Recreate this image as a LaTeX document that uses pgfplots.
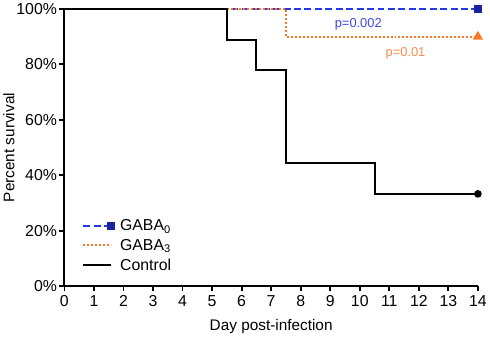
\documentclass[border=0pt]{standalone}
\usepackage{pgfplots}
\pgfplotsset{compat=1.18}
\usepackage{fontspec}
\setmainfont{Liberation Sans}
\definecolor{gblue}{RGB}{35,55,235}
\definecolor{gnavy}{RGB}{25,35,160}
\definecolor{gorange}{RGB}{255,120,35}
\definecolor{pblue}{RGB}{60,70,230}
\definecolor{porange}{RGB}{250,140,80}
\begin{document}
\begin{tikzpicture}[x=1bp,y=1bp]
\begin{axis}[
  scale only axis,
  width=416bp, height=279bp,
  xmin=0, xmax=14, ymin=0, ymax=100,
  axis x line*=bottom, axis y line*=left,
  axis line style={line width=2bp,-},
  xtick={0,1,...,14},
  ytick={0,20,40,60,80,100},
  yticklabel={\pgfmathprintnumber{\tick}\%},
  tick style={black,line width=1.8bp},
  tick align=outside,
  major tick length=5bp,
  /pgf/number format/assume math mode=true,
  tick label style={font=\fontsize{16}{18}\selectfont},
  xticklabel style={yshift=-1bp},
  yticklabel style={xshift=1bp},
  label style={font=\fontsize{15.5}{18}\selectfont},
  xlabel={Day post-infection},
  ylabel={Percent survival},
  xlabel style={yshift=-6bp},
  ylabel style={yshift=-5bp},
  clip=false,
  legend cell align=left,
  legend style={draw=none, fill=none, at={(axis cs:0.6,4.5)}, anchor=south west,
    font=\fontsize{16}{18}\selectfont, row sep=3bp, inner sep=0bp,
    /tikz/every odd column/.append style={column sep=4bp}},
  legend image code/.code={\draw[#1,mark repeat=2,mark phase=2] plot coordinates {(0bp,0bp) (28bp,0bp)};},
]
\addplot[gblue, line width=2bp, dash pattern=on 7bp off 3.5bp, const plot,
  mark=square*, mark size=3bp, mark options={solid,gnavy,fill=gnavy}, mark indices={2}]
  coordinates {(0,100) (14,100)};
\addlegendentry{GABA\textsubscript{0}}
\addplot[gorange, line width=2bp, dash pattern=on 2bp off 2bp, const plot,
  mark=triangle*, mark size=3.8bp, mark options={solid,gorange,fill=gorange}, mark indices={3}]
  coordinates {(0,100) (7.5,90) (14,90)};
\addlegendentry{GABA\textsubscript{3}}
\addplot[black, line width=2bp, const plot,
  mark=*, mark size=2.8bp, mark options={solid,black}, mark indices={6}]
  coordinates {(0,100) (5.5,88.9) (6.5,77.8) (7.5,44.4) (10.5,33.3) (14,33.3)};
\addlegendentry{Control}
\node[pblue, font=\fontsize{13}{15}\selectfont] at (axis cs:9.95,94.3) {p=0.002};
\node[porange, font=\fontsize{13}{15}\selectfont] at (axis cs:11.55,84) {p=0.01};
\end{axis}
\end{tikzpicture}
\end{document}
